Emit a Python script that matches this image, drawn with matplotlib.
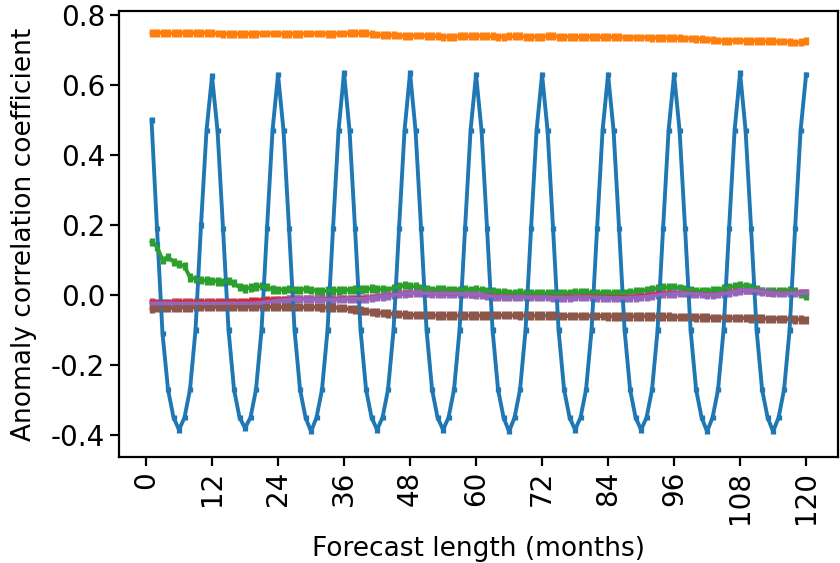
import numpy as np
import matplotlib
matplotlib.use("Agg")
import matplotlib.pyplot as plt

plt.rcParams['axes.unicode_minus'] = False
plt.rcParams['font.family'] = ['DejaVu Sans']

months = list(range(1, 121))
xticks = [0, 12, 24, 36, 48, 60, 72, 84, 96, 108, 120]

blue = [
    0.50, 0.19, -0.11, -0.27, -0.35, -0.385, -0.35, -0.27, -0.10, 0.20, 0.47, 0.625,
    0.47, 0.19, -0.10, -0.27, -0.35, -0.38, -0.35, -0.27, -0.10, 0.19, 0.47, 0.63,
    0.47, 0.19, -0.10, -0.27, -0.35, -0.39, -0.35, -0.27, -0.10, 0.19, 0.47, 0.635,
    0.47, 0.19, -0.10, -0.27, -0.35, -0.385, -0.35, -0.27, -0.10, 0.19, 0.47, 0.635,
    0.47, 0.19, -0.10, -0.27, -0.35, -0.385, -0.35, -0.27, -0.10, 0.19, 0.47, 0.63,
    0.47, 0.19, -0.10, -0.27, -0.35, -0.39, -0.35, -0.27, -0.10, 0.19, 0.47, 0.63,
    0.47, 0.19, -0.10, -0.27, -0.35, -0.385, -0.35, -0.27, -0.10, 0.19, 0.47, 0.63,
    0.47, 0.19, -0.10, -0.27, -0.35, -0.385, -0.35, -0.27, -0.10, 0.19, 0.47, 0.63,
    0.47, 0.19, -0.10, -0.27, -0.35, -0.39, -0.35, -0.27, -0.10, 0.19, 0.47, 0.635,
    0.47, 0.19, -0.10, -0.27, -0.35, -0.39, -0.35, -0.27, -0.10, 0.19, 0.47, 0.63,
]

orange = [
    0.748, 0.749, 0.749, 0.748, 0.748, 0.748, 0.749, 0.749, 0.748, 0.748,
    0.749, 0.748, 0.747, 0.746, 0.746, 0.746, 0.746, 0.746, 0.746, 0.746,
    0.747, 0.747, 0.747, 0.747, 0.746, 0.746, 0.746, 0.746, 0.747, 0.747,
    0.747, 0.747, 0.746, 0.746, 0.747, 0.747, 0.748, 0.748, 0.748, 0.748,
    0.745, 0.744, 0.743, 0.743, 0.742, 0.741, 0.740, 0.740, 0.741, 0.741,
    0.740, 0.739, 0.739, 0.738, 0.738, 0.738, 0.739, 0.739, 0.739, 0.740,
    0.740, 0.739, 0.739, 0.738, 0.738, 0.739, 0.739, 0.739, 0.738, 0.738,
    0.738, 0.738, 0.739, 0.739, 0.738, 0.738, 0.738, 0.737, 0.737, 0.737,
    0.738, 0.737, 0.737, 0.737, 0.737, 0.737, 0.736, 0.736, 0.736, 0.736,
    0.736, 0.735, 0.735, 0.735, 0.734, 0.734, 0.734, 0.733, 0.733, 0.732,
    0.731, 0.730, 0.729, 0.727, 0.726, 0.726, 0.727, 0.727, 0.726, 0.726,
    0.726, 0.725, 0.725, 0.725, 0.724, 0.724, 0.723, 0.721, 0.722, 0.725,
]

green = [
    0.152, 0.138, 0.100, 0.108, 0.095, 0.088, 0.082, 0.050, 0.045, 0.043,
    0.041, 0.040, 0.039, 0.037, 0.040, 0.034, 0.022, 0.019, 0.021, 0.024,
    0.025, 0.022, 0.016, 0.015, 0.015, 0.017, 0.015, 0.015, 0.017, 0.015,
    0.012, 0.010, 0.013, 0.013, 0.013, 0.014, 0.015, 0.016, 0.016, 0.017,
    0.018, 0.017, 0.016, 0.015, 0.020, 0.024, 0.028, 0.026, 0.024, 0.020,
    0.017, 0.015, 0.016, 0.017, 0.015, 0.014, 0.015, 0.016, 0.015, 0.016,
    0.014, 0.012, 0.010, 0.008, 0.007, 0.006, 0.006, 0.007, 0.006, 0.006,
    0.005, 0.005, 0.004, 0.004, 0.004, 0.005, 0.006, 0.007, 0.008, 0.007,
    0.006, 0.006, 0.005, 0.005, 0.005, 0.005, 0.006, 0.008, 0.010, 0.012,
    0.014, 0.016, 0.019, 0.021, 0.022, 0.022, 0.020, 0.016, 0.013, 0.012,
    0.011, 0.012, 0.013, 0.015, 0.018, 0.022, 0.025, 0.027, 0.026, 0.022,
    0.016, 0.012, 0.010, 0.010, 0.010, 0.012, 0.014, 0.010, 0.002, -0.003,
]

red = [
    -0.020, -0.021, -0.021, -0.021, -0.020, -0.020, -0.020, -0.020, -0.020, -0.020,
    -0.020, -0.020, -0.019, -0.019, -0.019, -0.019, -0.018, -0.018, -0.017, -0.016,
    -0.015, -0.014, -0.013, -0.012, -0.012, -0.011, -0.011, -0.011, -0.011, -0.011,
    -0.011, -0.011, -0.011, -0.011, -0.011, -0.010, -0.010, -0.009, -0.009, -0.008,
    -0.007, -0.005, -0.003, -0.001, 0.001, 0.003, 0.004, 0.005, 0.006, 0.006,
    0.005, 0.005, 0.005, 0.004, 0.004, 0.004, 0.003, 0.003, 0.002, 0.001,
    0.000, -0.001, -0.003, -0.004, -0.005, -0.005, -0.005, -0.005, -0.005, -0.005,
    -0.005, -0.005, -0.005, -0.006, -0.006, -0.005, -0.005, -0.005, -0.004, -0.004,
    -0.004, -0.005, -0.005, -0.006, -0.006, -0.006, -0.006, -0.005, -0.004, -0.003,
    -0.001, 0.001, 0.003, 0.004, 0.005, 0.005, 0.006, 0.006, 0.005, 0.004,
    0.003, 0.002, 0.002, 0.003, 0.005, 0.007, 0.010, 0.012, 0.014, 0.014,
    0.012, 0.010, 0.008, 0.006, 0.006, 0.006, 0.006, 0.006, 0.006, 0.007,
]

purple = [
    -0.024, -0.024, -0.024, -0.024, -0.024, -0.024, -0.024, -0.024, -0.024, -0.024,
    -0.024, -0.024, -0.024, -0.024, -0.024, -0.024, -0.024, -0.024, -0.024, -0.023,
    -0.022, -0.020, -0.018, -0.016, -0.015, -0.013, -0.012, -0.012, -0.012, -0.012,
    -0.012, -0.012, -0.013, -0.013, -0.012, -0.012, -0.011, -0.011, -0.011, -0.010,
    -0.008, -0.006, -0.004, -0.002, 0.000, 0.002, 0.004, 0.005, 0.006, 0.006,
    0.005, 0.004, 0.004, 0.004, 0.004, 0.004, 0.003, 0.003, 0.002, 0.001,
    0.000, -0.002, -0.004, -0.005, -0.006, -0.006, -0.006, -0.006, -0.006, -0.006,
    -0.006, -0.006, -0.006, -0.007, -0.007, -0.007, -0.007, -0.006, -0.006, -0.006,
    -0.006, -0.007, -0.007, -0.008, -0.008, -0.008, -0.008, -0.007, -0.007, -0.006,
    -0.004, -0.002, 0.000, 0.002, 0.003, 0.004, 0.005, 0.005, 0.004, 0.003,
    0.002, 0.001, 0.001, 0.002, 0.004, 0.006, 0.009, 0.012, 0.014, 0.014,
    0.012, 0.010, 0.008, 0.006, 0.005, 0.005, 0.005, 0.005, 0.005, 0.006,
]

brown = [
    -0.040, -0.038, -0.038, -0.037, -0.037, -0.036, -0.036, -0.036, -0.035, -0.035,
    -0.035, -0.035, -0.034, -0.034, -0.034, -0.034, -0.034, -0.034, -0.034, -0.034,
    -0.034, -0.034, -0.034, -0.034, -0.035, -0.035, -0.035, -0.035, -0.035, -0.035,
    -0.035, -0.036, -0.036, -0.036, -0.037, -0.038, -0.040, -0.042, -0.044, -0.046,
    -0.048, -0.050, -0.052, -0.053, -0.054, -0.055, -0.056, -0.057, -0.057, -0.058,
    -0.058, -0.058, -0.059, -0.059, -0.059, -0.059, -0.059, -0.059, -0.059, -0.059,
    -0.059, -0.059, -0.058, -0.058, -0.058, -0.058, -0.058, -0.059, -0.059, -0.059,
    -0.059, -0.059, -0.059, -0.059, -0.060, -0.060, -0.060, -0.060, -0.060, -0.060,
    -0.060, -0.060, -0.060, -0.061, -0.061, -0.061, -0.061, -0.061, -0.061, -0.061,
    -0.061, -0.062, -0.062, -0.062, -0.062, -0.063, -0.063, -0.063, -0.063, -0.064,
    -0.064, -0.064, -0.065, -0.065, -0.065, -0.066, -0.066, -0.066, -0.066, -0.067,
    -0.067, -0.067, -0.068, -0.068, -0.068, -0.069, -0.069, -0.070, -0.070, -0.071,
]

series = [blue, orange, green, red, purple, brown]
colors = ['#1f77b4', '#ff7f0e', '#2ca02c', '#d62728', '#9467bd', '#8c564b']
err = [0.008, 0.011, 0.012, 0.010, 0.012, 0.012]

fig = plt.figure(figsize=(8.4, 5.63), dpi=100)
ax = fig.add_axes([119/840, 1-457/563, (838-119)/840, (457-11)/563])

for vals, c, e in zip(series, colors, err):
    ax.errorbar(months, vals, yerr=e, color=c, lw=2.8, elinewidth=3.8, capsize=0)

ax.set_xlim(-4.91, 125.8)
ax.set_ylim(-0.4629, 0.8114)
ax.set_xticks(xticks)
ax.set_xticklabels([str(t) for t in xticks], rotation=90)
ax.set_yticks([-0.4, -0.2, 0.0, 0.2, 0.4, 0.6, 0.8])
ax.set_yticklabels(['-0.4', '-0.2', '0.0', '0.2', '0.4', '0.6', '0.8'])
ax.tick_params(labelsize=20, width=1.6, length=6.5)
for s in ax.spines.values():
    s.set_linewidth(1.6)
ax.set_xlabel('Forecast length (months)', fontsize=19, labelpad=9)
ax.set_ylabel('Anomaly correlation coefficient', fontsize=19, labelpad=10)

fig.savefig('out.png', dpi=100)
